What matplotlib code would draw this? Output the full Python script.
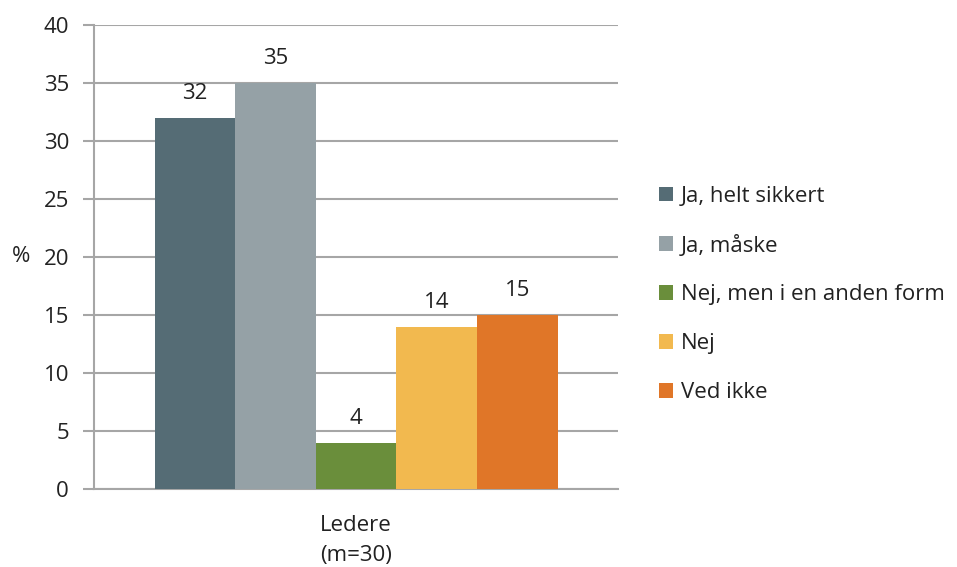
import matplotlib.pyplot as plt
import numpy as np

plt.rcParams['font.family'] = ['Open Sans', 'DejaVu Sans']

categories = ['Ja, helt sikkert', 'Ja, måske', 'Nej, men i en anden form', 'Nej', 'Ved ikke']
values = [32, 35, 4, 14, 15]
colors = ['#556C75', '#95A1A6', '#6A8E3B', '#F2B94F', '#E07628']
group_label = 'Ledere\n(m=30)'

fs = 16
fig = plt.figure(figsize=(9.57, 5.67), dpi=100)
ax = fig.add_axes([0.0982, 0.1376, 0.5476, 0.8183])

w = 0.1538
offsets = (np.arange(len(values)) - 2) * w
for off, v, c, lab in zip(offsets, values, colors, categories):
    ax.bar(off, v, width=w, color=c, label=lab, zorder=3)
    ax.annotate(str(v), (off, v), xytext=(0, 10), textcoords='offset points',
                ha='center', va='bottom', fontsize=fs, color='#222222')

ax.set_xlim(-0.5, 0.5)
ax.set_ylim(0, 40)
ax.set_yticks(range(0, 41, 5))
ax.set_xticks([0])
ax.set_xticklabels([group_label], fontsize=fs, color='#222222', linespacing=1.55)
ax.tick_params(axis='x', length=0, pad=19)
ax.tick_params(axis='y', length=8, width=1.5, color='#A6A6A6', labelsize=fs,
               labelcolor='#222222', pad=10)
ax.yaxis.grid(True, color='#A6A6A6', linewidth=1.5, zorder=0)
ax.set_axisbelow(True)
for s in ['top', 'right']:
    ax.spines[s].set_visible(False)
for s in ['left', 'bottom']:
    ax.spines[s].set_color('#A6A6A6')
    ax.spines[s].set_linewidth(1.5)
ax.set_ylabel('%', rotation=0, fontsize=fs, color='#222222', va='center')
ax.yaxis.set_label_coords(-0.14, 0.5)

fig.legend(loc='upper left', bbox_to_anchor=(0.679, 0.688), frameon=False,
           fontsize=fs, handlelength=0.65, handleheight=0.65, handletextpad=0.35,
           labelspacing=1.25, borderaxespad=0, labelcolor='#222222')

fig.savefig('out.png', dpi=100)
